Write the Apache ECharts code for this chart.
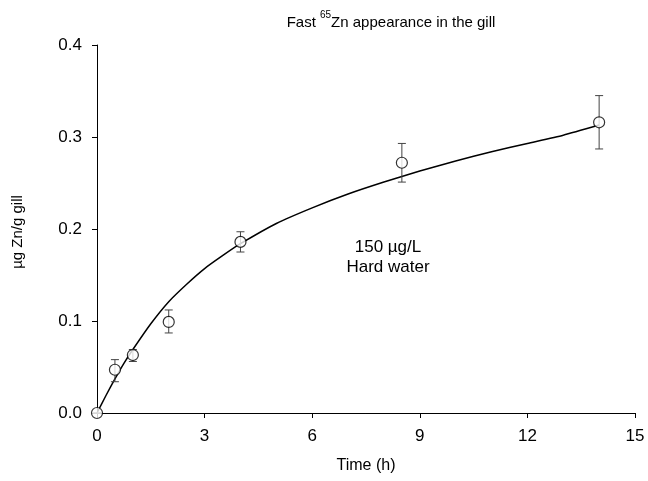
<!DOCTYPE html>
<html>
<head>
<meta charset="utf-8">
<script src="https://cdn.jsdelivr.net/npm/echarts@6/dist/echarts.min.js"></script>
<style>html,body{margin:0;padding:0;background:#fff;}#c{width:648px;height:481px;}</style>
</head>
<body>
<div id="c"></div>
<script>
// Measured points
var times = [0, 0.5, 1, 2, 4, 8.5, 14];
var means = [0, 0.047, 0.063, 0.099, 0.186, 0.272, 0.316];
var errLow = [0, 0.034, 0.056, 0.087, 0.175, 0.251, 0.287];
var errHigh = [0, 0.058, 0.069, 0.112, 0.197, 0.293, 0.345];
// Fitted curve
var curveT = [0, 0.25, 0.5, 0.75, 1, 1.5, 2, 2.5, 3, 3.5, 4, 5, 6, 7, 8, 9, 10, 11, 12, 13, 14];
var curveV = [0, 0.019, 0.037, 0.054, 0.069, 0.097, 0.121, 0.140, 0.157, 0.171, 0.184, 0.206, 0.223, 0.238, 0.251, 0.263, 0.274, 0.284, 0.293, 0.302, 0.313];
// Axis ticks
var xTicks = [0, 3, 6, 9, 12, 15];
var yTicks = [0, 0.1, 0.2, 0.3, 0.4];

var font = 'Liberation Sans, Arial, sans-serif';
var pts = times.map(function (t, i) { return [t, means[i]]; });
var errs = times.map(function (t, i) { return [t, errLow[i], errHigh[i]]; });
var curve = curveT.map(function (t, i) { return [t, curveV[i]]; });

var chart = echarts.init(document.getElementById('c'), null, {renderer: 'canvas'});
chart.setOption({
  backgroundColor: '#fff',
  animation: false,
  title: {
    text: '{a|Fast }{s|65}{a|Zn appearance in the gill}',
    left: 386, top: 5, textAlign: 'center',
    textStyle: {
      fontWeight: 'normal',
      rich: {
        a: {fontFamily: font, fontSize: 15, fontWeight: 'normal', color: '#000', verticalAlign: 'bottom', lineHeight: 20},
        s: {fontFamily: font, fontSize: 10, fontWeight: 'normal', color: '#000', verticalAlign: 'top', lineHeight: 20, padding: [0, 0, 7, 0]}
      }
    }
  },
  grid: {left: 97, right: 13, top: 45, bottom: 68, containLabel: false},
  xAxis: {
    type: 'value', min: 0, max: 15, interval: 3,
    name: 'Time (h)', nameLocation: 'middle', nameGap: 45,
    nameTextStyle: {fontFamily: font, fontSize: 16, color: '#000'},
    axisLine: {show: true, onZero: false, lineStyle: {color: '#000', width: 1}},
    axisTick: {show: true, inside: false, length: 5, lineStyle: {color: '#000'}},
    axisLabel: {fontFamily: font, fontSize: 17, color: '#000', margin: 15},
    splitLine: {show: false}
  },
  yAxis: {
    type: 'value', min: 0, max: 0.4, interval: 0.1,
    axisLine: {show: true, onZero: false, lineStyle: {color: '#000', width: 1}},
    axisTick: {show: true, inside: false, length: 5, lineStyle: {color: '#000'}},
    axisLabel: {fontFamily: font, fontSize: 17, color: '#000', margin: 15,
      formatter: function (v) { return v.toFixed(1); }},
    splitLine: {show: false}
  },
  series: [
    {
      type: 'line', data: curve, smooth: 0.2, showSymbol: false, symbol: 'none',
      lineStyle: {color: '#000', width: 1.5}, z: 2, silent: true
    },
    {
      type: 'custom', data: errs, z: 3, silent: true,
      renderItem: function (params, api) {
        var x = api.value(0);
        var lo = api.coord([x, api.value(1)]);
        var hi = api.coord([x, api.value(2)]);
        var hw = 4;
        var st = {stroke: '#444', lineWidth: 1};
        return {
          type: 'group',
          children: [
            {type: 'line', shape: {x1: lo[0], y1: lo[1], x2: hi[0], y2: hi[1]}, style: st},
            {type: 'line', shape: {x1: lo[0] - hw, y1: lo[1], x2: lo[0] + hw, y2: lo[1]}, style: st},
            {type: 'line', shape: {x1: hi[0] - hw, y1: hi[1], x2: hi[0] + hw, y2: hi[1]}, style: st}
          ]
        };
      }
    },
    {
      type: 'scatter', data: pts, symbol: 'circle', symbolSize: 11, z: 4, silent: true,
      itemStyle: {color: '#fff', borderColor: '#000', borderWidth: 1.2}
    }
  ],
  graphic: [
    {type: 'text', x: 388, y: 247, style: {text: '150 µg/L', fontFamily: font, fontSize: 17, fill: '#000', align: 'center', verticalAlign: 'middle'}},
    {type: 'text', x: 388, y: 267, style: {text: 'Hard water', fontFamily: font, fontSize: 17, fill: '#000', align: 'center', verticalAlign: 'middle'}},
    {type: 'text', x: 18, y: 232, rotation: Math.PI / 2, style: {text: 'µg Zn/g gill', fontFamily: font, fontSize: 15, fill: '#000', align: 'center', verticalAlign: 'middle'}}
  ]
});
</script>
</body>
</html>
